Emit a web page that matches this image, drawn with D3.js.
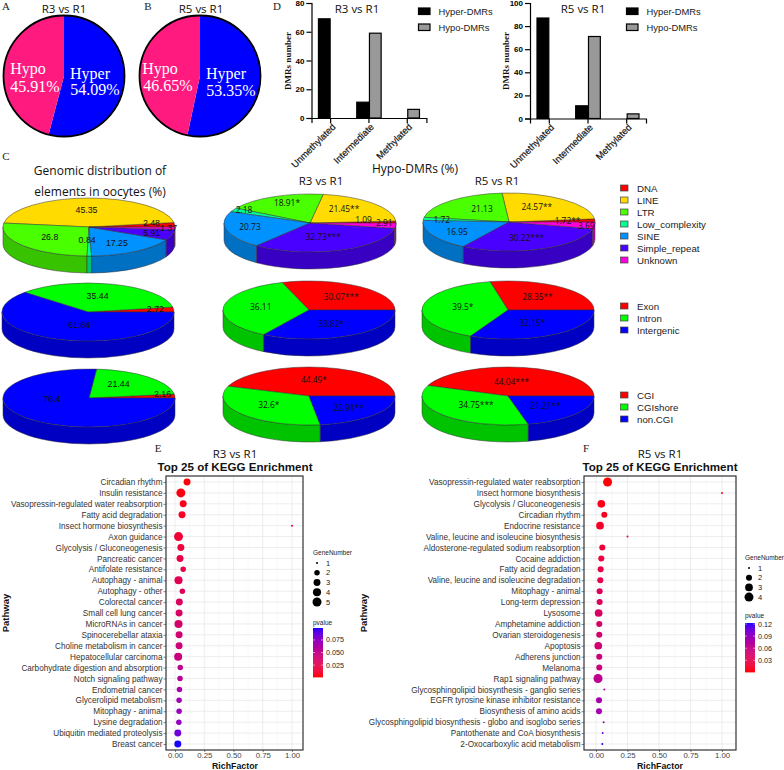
<!DOCTYPE html>
<html><head><meta charset="utf-8">
<script src="https://cdn.jsdelivr.net/npm/d3@7/dist/d3.min.js"></script>
<style>html,body{margin:0;padding:0;background:#fff}svg{display:block}</style>
</head><body><div id="c"></div>
<script>
// ---------- DATA ----------
const repeatNames = ["DNA","LINE","LTR","Low_complexity","SINE","Simple_repeat","Unknown"];
const regionNames = ["Exon","Intron","Intergenic"];
const cgiNames = ["CGI","CGIshore","non.CGI"];

const pieR3Shares = [54.09, 45.91];
const pieR5Shares = [53.35, 46.65];

const dmrCategories = ["Unmethylated","Intermediate","Methylated"];
const dmrSeries = ["Hyper-DMRs","Hypo-DMRs"];
const r3Hyper = [69, 11, 0];
const r3Hypo = [0, 59, 6];
const r5Hyper = [87, 11, 0];
const r5Hypo = [0, 71, 4];

const repeatOocyte = [2.48,45.35,26.8,0.84,17.25,5.91,1.37];
const repeatR3 = [1.09,21.45,18.91,2.18,20.73,32.73,2.91];
const repeatR5 = [1.72,24.57,21.13,1.72,16.95,30.22,3.69];
const regionOocyte = [2.72,35.44,61.84];
const regionR3 = [30.07,36.11,33.82];
const regionR5 = [28.35,39.5,32.15];
const cgiOocyte = [2.16,21.44,76.4];
const cgiR3 = [44.49,32.6,22.91];
const cgiR5 = [44.04,34.75,21.21];
const repeatOocyteText = ["2.48","45.35","26.8","0.84","17.25","5.91","1.37"];
const repeatR3Text = ["1.09","21.45**","18.91*","2.18","20.73","32.73***","2.91"];
const repeatR5Text = ["1.72**","24.57**","21.13","1.72","16.95","30.22***","3.69"];
const regionOocyteText = ["2.72","35.44","61.84"];
const regionR3Text = ["30.07***","36.11","33.82*"];
const regionR5Text = ["28.35**","39.5*","32.15*"];
const cgiOocyteText = ["2.16","21.44","76.4"];
const cgiR3Text = ["44.49*","32.6*","22.91**"];
const cgiR5Text = ["44.04***","34.75***","21.21**"];

const pathwaysE = ["Circadian rhythm","Insulin resistance","Vasopressin-regulated water reabsorption","Fatty acid degradation","Insect hormone biosynthesis","Axon guidance","Glycolysis / Gluconeogenesis","Pancreatic cancer","Antifolate resistance","Autophagy - animal","Autophagy - other","Colorectal cancer","Small cell lung cancer","MicroRNAs in cancer","Spinocerebellar ataxia","Choline metabolism in cancer","Hepatocellular carcinoma","Carbohydrate digestion and absorption","Notch signaling pathway","Endometrial cancer","Glycerolipid metabolism","Mitophagy - animal","Lysine degradation","Ubiquitin mediated proteolysis","Breast cancer"];
const richE = [.103,.05,.07,.06,1,.03,.05,.043,.07,.03,.063,.037,.035,.03,.035,.035,.027,.045,.043,.038,.035,.035,.033,.024,.024];
const genesE = [3,5,3,3,1,5,3,3,2,4,2,3,3,4,3,3,4,2,2,2,2,2,2,3,3];
const pvalE = [.003,.004,.007,.009,.012,.015,.018,.02,.022,.027,.03,.032,.035,.037,.04,.042,.045,.052,.056,.063,.067,.07,.074,.085,.098];

const pathwaysF = ["Vasopressin-regulated water reabsorption","Insect hormone biosynthesis","Glycolysis / Gluconeogenesis","Circadian rhythm","Endocrine resistance","Valine, leucine and isoleucine biosynthesis","Aldosterone-regulated sodium reabsorption","Cocaine addiction","Fatty acid degradation","Valine, leucine and isoleucine degradation","Mitophagy - animal","Long-term depression","Lysosome","Amphetamine addiction","Ovarian steroidogenesis","Apoptosis","Adherens junction","Melanoma","Rap1 signaling pathway","Glycosphingolipid biosynthesis - ganglio series","EGFR tyrosine kinase inhibitor resistance","Biosynthesis of amino acids","Glycosphingolipid biosynthesis - globo and isoglobo series","Pantothenate and CoA biosynthesis","2-Oxocarboxylic acid metabolism"];
const richF = [.092,1,.042,.066,.032,.25,.05,.042,.037,.034,.029,.029,.021,.026,.026,.018,.026,.026,.016,.066,.024,.024,.061,.053,.05];
const genesF = [4,1,3,2,3,1,2,2,2,2,2,2,3,2,2,3,2,2,4,1,2,2,1,1,1];
const pvalF = [.002,.006,.007,.01,.012,.013,.02,.022,.027,.03,.036,.038,.042,.043,.046,.05,.053,.055,.065,.075,.08,.082,.09,.105,.12];

const geneLegendE = [1,2,3,4,5];
const geneLegendF = [1,2,3,4];
const pvalTicksE = [.025,.05,.075];
const pvalTicksF = [.03,.06,.09,.12];
const richTicks = [0,.25,.5,.75,1];

// ---------- STYLE / LAYOUT ----------
const rainbow7 = ["#FF0000","#FFDB00","#49FF00","#00FF92","#0092FF","#4900FF","#FF00DB"];
const rgb3 = ["#FF0000","#00FF00","#0000FF"];
const SANS = "'Liberation Sans',Arial,sans-serif", SERIF = "'Liberation Serif',serif", OPEN = "'Open Sans',sans-serif";

const svg = d3.select("#c").append("svg").attr("width",784).attr("height",770).attr("viewBox","0 0 784 770");
function text(x,y,s,o={}){
  const t = svg.append("text").attr("x",x).attr("y",y).text(s)
    .attr("font-family",o.f||SANS).attr("font-size",o.s||9).attr("fill",o.c||"#000")
    .attr("text-anchor",o.a||"middle").attr("dominant-baseline","central");
  if(o.b) t.attr("font-weight","bold");
  if(o.r!=null) t.attr("transform",`rotate(${o.r} ${x} ${y})`);
  return t;
}
// panel letters
[["A",6,6],["B",148,6],["C",6,156],["D",277,6],["E",158,448],["F",586,448]].forEach(d=>text(d[1],d[2],d[0],{f:SERIF,s:11,c:"#222"}));

// ---------- flat pies ----------
function flatPie(cx,shares,title,titleX,lab){
  const cy=76,R=60.5;
  const g=svg.append("g").attr("transform",`translate(${cx},${cy})`);
  const arcs=d3.pie().sort(null)(shares);
  const arc=d3.arc().innerRadius(0).outerRadius(R);
  g.selectAll("path").data(arcs).join("path").attr("d",arc).attr("fill",(d,i)=>["#0000FF","#FF1A80"][i]);
  g.append("circle").attr("r",R).attr("fill","none").attr("stroke","#000").attr("stroke-width",1.8);
  text(titleX,8,title,{f:OPEN,s:11.5,c:"#111"});
  lab.forEach(l=>text(l[0],l[1],l[2],{f:SERIF,s:16,c:"#fff"}));
}
flatPie(64,pieR3Shares,"R3 vs R1",64,[[90,73,"Hyper"],[95,89,"54.09%"],[28,68,"Hypo"],[35,86,"45.91%"]]);
flatPie(200,pieR5Shares,"R5 vs R1",201,[[226,73,"Hyper"],[231,90,"53.35%"],[160,68,"Hypo"],[168,85,"46.65%"]]);

// ---------- bars ----------
function bars(cfg){
  const y=d3.scaleLinear().domain([0,cfg.max]).range([cfg.y0,3]);
  const x=d3.scaleBand().domain(dmrCategories).range(cfg.xr).paddingInner(.337).paddingOuter(.168);
  const x1=d3.scaleBand().domain(dmrSeries).range([0,x.bandwidth()]);
  const g=svg.append("g");
  const colors=["#000","#999"];
  [cfg.hyper,cfg.hypo].forEach((vals,si)=>{
    g.append("g").selectAll("rect").data(vals).join("rect")
      .attr("x",(d,i)=>x(dmrCategories[i])+x1(dmrSeries[si])+.5)
      .attr("width",x1.bandwidth()-1)
      .attr("y",d=>y(d)).attr("height",d=>cfg.y0-y(d))
      .attr("fill",colors[si]).attr("stroke","#000").attr("stroke-width",1.2)
      .attr("display",d=>d>0?null:"none");
  });
  const ay=g.append("g").attr("transform",`translate(${cfg.xr[0]},0)`).call(d3.axisLeft(y).tickValues(d3.range(0,cfg.max+1,20)).tickSize(5).tickFormat(d3.format("d")));
  ay.selectAll("text").attr("font-family",SANS).attr("font-size",8).attr("font-weight","bold").attr("fill","#000").attr("dx",1);
  ay.selectAll("line,path").attr("stroke","#000").attr("stroke-width",1.2);
  const ax=g.append("g").attr("transform",`translate(0,${cfg.y0})`).call(d3.axisBottom(x).tickSize(5).tickFormat(""));
  ax.selectAll("line,path").attr("stroke","#000").attr("stroke-width",1.2);
  dmrCategories.forEach(c=>{
    const px=x(c)+x.bandwidth()/2;
    text(px+3,cfg.y0+7,c,{s:9.4,a:"end",c:"#111",r:-45}).attr("stroke","#111").attr("stroke-width",.2);
  });
  text(cfg.xr[0]-24,61,"DMRs number",{f:SERIF,s:9,b:1,r:-90,c:"#111"});
  text(cfg.titleX,8,cfg.title,{f:OPEN,s:11.5,c:"#111"});
  dmrSeries.forEach((s,i)=>{
    svg.append("rect").attr("x",cfg.legX).attr("y",8+i*16).attr("width",11.5).attr("height",6.5)
      .attr("fill",colors[i]).attr("stroke","#000").attr("stroke-width",1.2);
    text(cfg.legX+20,11.5+i*16,s,{a:"start",s:9.4,c:"#222"});
  });
}
bars({max:80,y0:118,xr:[311.5,426.4],hyper:r3Hyper,hypo:r3Hypo,title:"R3 vs R1",titleX:357,legX:418.5});
bars({max:100,y0:118.5,xr:[530,646],hyper:r5Hyper,hypo:r5Hypo,title:"R5 vs R1",titleX:583,legX:626.5});

// ---------- 3D pies ----------
const RX=86,RY=29,DEPTH=17;
function ptOn(cx,cy,t){return [cx+RX*Math.cos(t),cy-RY*Math.sin(t)];}
function pie3d(cx,cy,vals,labels,colors,nudges,font,fs){
  const g=svg.append("g");
  const tau=2*Math.PI;
  const arcs=d3.pie().sort(null).startAngle(0).endAngle(tau)(vals);
  arcs.forEach((d,i)=>{
    const a=Math.max(d.startAngle,Math.PI),b=Math.min(d.endAngle,tau);
    if(b<=a) return;
    const p0=ptOn(cx,cy,a),p1=ptOn(cx,cy,b);
    const lg=(b-a)>Math.PI?1:0;
    g.append("path")
      .attr("d",`M${p0}A${RX} ${RY} 0 ${lg} 0 ${p1}L${p1[0]} ${p1[1]+DEPTH}A${RX} ${RY} 0 ${lg} 1 ${p0[0]} ${p0[1]+DEPTH}Z`)
      .attr("fill",d3.rgb(colors[i]).darker(.75)).attr("stroke","#333").attr("stroke-width",.5);
  });
  arcs.forEach((d,i)=>{
    const p0=ptOn(cx,cy,d.startAngle),p1=ptOn(cx,cy,d.endAngle);
    const lg=(d.endAngle-d.startAngle)>Math.PI?1:0;
    g.append("path")
      .attr("d",`M${cx} ${cy}L${p0}A${RX} ${RY} 0 ${lg} 0 ${p1}Z`)
      .attr("fill",colors[i]).attr("stroke","#333").attr("stroke-width",.5);
  });
  arcs.forEach((d,i)=>{
    const mid=(d.startAngle+d.endAngle)/2;
    const x=cx+.6*RX*Math.cos(mid)+nudges[i][0], y=cy-.6*RY*Math.sin(mid)+nudges[i][1];
    text(x,y,labels[i],{f:font,s:fs,c:"#111"});
  });
}
pie3d(89,227,repeatOocyte,repeatOocyteText,rainbow7,[[11,-3],[-2,0],[0,-1],[-2,-4],[0,1],[13,1],[28,0]],SANS,8.8);
pie3d(310,223,repeatR3,repeatR3Text,rainbow7,[[2,-3],[-4,-3],[-1,-5],[-20,-6],[-10,-1],[-5,-3],[23,-2]],OPEN,8.4);
pie3d(509,222,repeatR5,repeatR5Text,rainbow7,[[7,-1],[-5,-2],[8,-1],[-16,-1],[-6,1],[-2,-1],[26,1]],OPEN,8.4);
pie3d(88,312,regionOocyte,regionOocyteText,rgb3,[[16,-2],[-5,1],[10,-3]],SANS,8.8);
pie3d(309,310,regionR3,regionR3Text,rgb3,[[2,1],[3,-1],[-3,-2]],OPEN,8.4);
pie3d(508,310,regionR5,regionR5Text,rgb3,[[-3,0],[6,-1],[-3,-2]],OPEN,8.4);
pie3d(89,398,cgiOocyte,cgiOocyteText,rgb3,[[22,-3],[-6,-1],[1,-11]],SANS,8.8);
pie3d(309,396,cgiR3,cgiR3Text,rgb3,[[-4,1],[0,-2],[1,0]],OPEN,8.4);
pie3d(508,396,cgiR5,cgiR5Text,rgb3,[[-6,3],[7,-3],[-3,-1]],OPEN,8.4);

text(100,170,"Genomic distribution of",{f:OPEN,s:12,c:"#111"});
text(100,191,"elements in oocytes (%)",{f:OPEN,s:12,c:"#111"});
text(415,168,"Hypo-DMRs (%)",{f:OPEN,s:12,c:"#111"});
text(321,180,"R3 vs R1",{f:OPEN,s:11.5,c:"#111"});
text(497,180,"R5 vs R1",{f:OPEN,s:11.5,c:"#111"});

function pieLegend(names,colors,y0){
  names.forEach((n,i)=>{
    svg.append("rect").attr("x",620.5).attr("y",y0+i*12-3).attr("width",7.5).attr("height",6)
      .attr("fill",colors[i]).attr("stroke","#444").attr("stroke-width",.7);
    text(637,y0+i*12,n,{a:"start",s:9.7,c:"#222"});
  });
}
pieLegend(repeatNames,rainbow7,188);
pieLegend(regionNames,rgb3,306);
pieLegend(cgiNames,rgb3,395);

// ---------- KEGG dot plots ----------
function dotPlot(c){
  const top=476,bot=750;
  const x=d3.scaleLinear().domain([0,1]).range([c.x0,c.x1]);
  const y=d3.scalePoint().domain(c.names).range([482,744]);
  const color=d3.scaleLinear().domain(c.pDomain).range(["#FF0000","#0000FF"]).interpolate(d3.interpolateLab);
  const sizeT=d3.scaleSqrt().domain([0,c.maxGene-1]).range([0,1]);
  const sizeR=d3.scaleLinear().domain([0,1]).range([1,4.5]);
  const r=g=>sizeR(sizeT(g-1));
  const g=svg.append("g");
  const minor=[.125,.375,.625,.875];
  g.selectAll(".mn").data(minor).join("line").attr("x1",d=>x(d)).attr("x2",d=>x(d)).attr("y1",top).attr("y2",bot).attr("stroke","#f2f2f2").attr("stroke-width",.5);
  g.selectAll(".mj").data(richTicks).join("line").attr("x1",d=>x(d)).attr("x2",d=>x(d)).attr("y1",top).attr("y2",bot).attr("stroke","#e8e8e8").attr("stroke-width",.8);
  g.selectAll(".hz").data(c.names).join("line").attr("x1",c.pl).attr("x2",c.pr).attr("y1",d=>y(d)).attr("y2",d=>y(d)).attr("stroke","#e8e8e8").attr("stroke-width",.8);
  g.selectAll("circle").data(c.names).join("circle")
    .attr("cx",(d,i)=>x(c.rich[i])).attr("cy",d=>y(d))
    .attr("r",(d,i)=>r(c.genes[i])).attr("fill",(d,i)=>color(c.p[i]));
  g.append("rect").attr("x",c.pl).attr("y",top).attr("width",c.pr-c.pl).attr("height",bot-top).attr("fill","none").attr("stroke","#333").attr("stroke-width",1.2);
  const ay=g.append("g").attr("transform",`translate(${c.pl},0)`).call(d3.axisLeft(y).tickSize(2.5).tickPadding(1));
  ay.select("path").remove();
  ay.selectAll("line").attr("stroke","#333").attr("stroke-width",.6);
  ay.selectAll("text").attr("font-family",SANS).attr("font-size",c.labelSize).attr("fill","#333");
  const ax=g.append("g").attr("transform",`translate(0,${bot})`).call(d3.axisBottom(x).tickValues(richTicks).tickFormat(d3.format(".2f")).tickSize(2).tickPadding(0));
  ax.select("path").remove();
  ax.selectAll("line").attr("stroke","#333").attr("stroke-width",.6);
  ax.selectAll("text").attr("font-family",SANS).attr("font-size",7.8).attr("fill","#444");
  text(c.midX,453,c.title,{f:OPEN,s:11.5,c:"#111"});
  text(c.midX,466,"Top 25 of KEGG Enrichment",{s:11.6,b:1,c:"#111"});
  text(c.midX,765.5,"RichFactor",{s:8.8,b:1,c:"#111"});
  text(c.pathX,613,"Pathway",{s:9.5,b:1,r:-90,c:"#111"});
  text(c.legX,c.geneTitleY,"GeneNumber",{a:"start",s:6.5,c:"#222"});
  c.geneLegend.forEach((d,i)=>{
    const yy=c.geneY0+i*c.geneStep;
    svg.append("circle").attr("cx",c.legX+4).attr("cy",yy).attr("r",r(d)).attr("fill","#000");
    text(c.legX+13,yy,d,{a:"start",s:7.5,c:"#222"});
  });
  text(c.legX,c.pTitleY,"pvalue",{a:"start",s:6.5,c:"#222"});
  const gy=d3.scaleLinear().domain(c.pDomain).range([c.barBot,c.barTop]);
  const N=50, h=(c.barBot-c.barTop)/N;
  svg.append("g").selectAll("rect").data(d3.range(N)).join("rect")
    .attr("x",c.legX).attr("y",d=>c.barTop+d*h).attr("width",10).attr("height",h+.4)
    .attr("fill",d=>color(gy.invert(c.barTop+(d+.5)*h)));
  c.pTicks.forEach(v=>{
    svg.append("line").attr("x1",c.legX).attr("x2",c.legX+2).attr("y1",gy(v)).attr("y2",gy(v)).attr("stroke","#fff").attr("stroke-width",.5);
    svg.append("line").attr("x1",c.legX+8).attr("x2",c.legX+10).attr("y1",gy(v)).attr("y2",gy(v)).attr("stroke","#fff").attr("stroke-width",.5);
    text(c.legX+13,gy(v),d3.format(c.pFmt)(v),{a:"start",s:7.2,c:"#222"});
  });
}
dotPlot({names:pathwaysE,rich:richE,genes:genesE,p:pvalE,x0:175,x1:292,pl:166,pr:303,midX:235,pathX:5,title:"R3 vs R1",labelSize:8.2,
  maxGene:5,geneLegend:geneLegendE,pDomain:[.0013,.0987],pTicks:pvalTicksE,pFmt:".3f",
  legX:313,geneTitleY:552,geneY0:563,geneStep:9.75,pTitleY:622,barTop:628,barBot:677});
dotPlot({names:pathwaysF,rich:richF,genes:genesF,p:pvalF,x0:596,x1:722,pl:584,pr:736,midX:660,pathX:363,title:"R5 vs R1",labelSize:8.2,
  maxGene:4,geneLegend:geneLegendF,pDomain:[.001,.1225],pTicks:pvalTicksF,pFmt:".2f",
  legX:745,geneTitleY:557,geneY0:568,geneStep:9.7,pTitleY:615.5,barTop:623,barBot:672});
</script></body></html>
